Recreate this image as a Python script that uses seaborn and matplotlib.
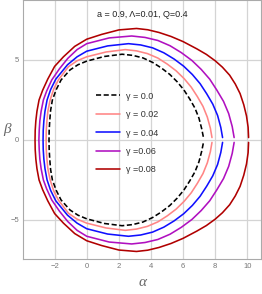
import numpy as np
import pandas as pd
import seaborn as sns
import matplotlib
import matplotlib.pyplot as plt
from matplotlib.ticker import AutoMinorLocator, FixedLocator

matplotlib.use("Agg")

# upper half of each shadow (right end -> top -> left edge)
gamma_labels = ["γ = 0.0", "γ = 0.02", "γ = 0.04", "γ =0.06", "γ =0.08"]

alpha_g000 = [7.26, 7.16, 6.99, 6.74, 6.41, 6.05, 5.63, 5.17, 4.65, 4.10, 3.50, 2.86, 2.20,
              1.10, 0.00, -0.55, -1.04, -1.60, -1.90, -2.14, -2.25, -2.30, -2.34, -2.35]
beta_g000 = [0.20, 0.70, 1.36, 1.99, 2.57, 3.13, 3.64, 4.10, 4.50, 4.85, 5.13, 5.29, 5.36,
             5.22, 4.93, 4.70, 4.38, 3.75, 3.15, 2.50, 1.85, 1.25, 0.60, 0.00]

alpha_g002 = [7.80, 7.70, 7.51, 7.24, 6.89, 6.51, 6.07, 5.57, 5.02, 4.43, 3.78, 3.10, 2.40,
              1.20, 0.00, -0.60, -1.14, -1.77, -2.05, -2.28, -2.42, -2.48, -2.52, -2.53]
beta_g002 = [0.15, 0.73, 1.43, 2.10, 2.71, 3.30, 3.83, 4.32, 4.74, 5.12, 5.40, 5.57, 5.65,
             5.50, 5.20, 4.95, 4.58, 3.75, 3.20, 2.50, 1.80, 1.20, 0.60, 0.00]

alpha_g004 = [8.46, 8.35, 8.15, 7.85, 7.47, 7.06, 6.58, 6.04, 5.44, 4.80, 4.10, 3.36, 2.60,
              1.30, 0.00, -0.60, -1.20, -1.93, -2.25, -2.47, -2.60, -2.67, -2.71, -2.72]
beta_g004 = [0.15, 0.78, 1.53, 2.24, 2.89, 3.52, 4.09, 4.61, 5.06, 5.45, 5.76, 5.94, 6.02,
             5.88, 5.55, 5.20, 4.70, 3.80, 3.15, 2.50, 1.80, 1.20, 0.60, 0.00]

alpha_g006 = [9.18, 9.06, 8.84, 8.52, 8.10, 7.66, 7.13, 6.55, 5.89, 5.19, 4.43, 3.63, 2.80,
              1.40, 0.00, -0.60, -1.18, -1.70, -2.18, -2.50, -2.70, -2.84, -2.92, -2.96, -2.98]
beta_g006 = [0.15, 0.84, 1.65, 2.41, 3.12, 3.80, 4.41, 4.97, 5.46, 5.89, 6.22, 6.41, 6.50,
             6.38, 6.02, 5.65, 5.10, 4.45, 3.75, 3.05, 2.50, 1.80, 1.20, 0.60, 0.00]

alpha_g008 = [10.08, 10.05, 9.95, 9.78, 9.55, 9.25, 8.90, 8.45, 8.00, 7.45, 6.85, 6.00,
              5.25, 4.50, 3.80, 3.10, 2.00, 0.93, 0.00, -0.75, -1.45, -2.00, -2.43, -2.75,
              -2.97, -3.10, -3.17, -3.21, -3.22]
beta_g008 = [0.15, 0.80, 1.50, 2.20, 2.90, 3.50, 4.05, 4.55, 4.95, 5.35, 5.70, 6.15,
             6.47, 6.72, 6.89, 6.97, 6.88, 6.60, 6.30, 5.85, 5.20, 4.60, 3.80, 3.10,
             2.50, 1.80, 1.20, 0.60, 0.00]

curves = [(alpha_g000, beta_g000), (alpha_g002, beta_g002), (alpha_g004, beta_g004),
          (alpha_g006, beta_g006), (alpha_g008, beta_g008)]
colors = ["black", "#ff8585", "#1010ff", "#b010c0", "#b00000"]

xticks = [-2, 0, 2, 4, 6, 8, 10]
yticks = [-5, 0, 5]

sns.set_theme(style="white")
plt.rcParams["font.family"] = ["Liberation Sans", "DejaVu Sans"]

fig = plt.figure(figsize=(2.62, 2.94), dpi=100)
ax = fig.add_axes([0.089, 0.118, 0.907, 0.882])

for (a, b), col, lab in zip(curves, colors, gamma_labels):
    # shadow is symmetric in beta: go round the top, then back along the bottom
    xs = list(a) + list(a[::-1][1:])
    ys = list(b) + [-v for v in b[::-1][1:]]
    df = pd.DataFrame({"alpha": xs, "beta": ys})
    sns.lineplot(data=df, x="alpha", y="beta", sort=False, estimator=None,
                 color=col, lw=1.15, label=lab, ax=ax)

ax.lines[0].set_dashes([3.2, 1.6])

ax.set_xlim(-3.95, 10.85)
ax.set_ylim(-7.46, 8.75)
ax.xaxis.set_major_locator(FixedLocator(xticks))
ax.yaxis.set_major_locator(FixedLocator(yticks))
ax.xaxis.set_minor_locator(AutoMinorLocator(5))
ax.yaxis.set_minor_locator(AutoMinorLocator(5))
ax.grid(True, which="major", color="#d4d4d4", lw=0.9)
ax.set_axisbelow(True)
ax.tick_params(which="both", direction="in", colors="#999999", labelcolor="#777777",
               labelsize=5.5, pad=3)
ax.tick_params(which="major", length=3.5, width=0.6)
ax.tick_params(which="minor", length=2, width=0.5)
for s in ax.spines.values():
    s.set_color("#aaaaaa")
    s.set_linewidth(0.8)

ax.set_xlabel("α", family="Liberation Serif", style="italic", fontsize=11, color="#666666", labelpad=4)
ax.set_ylabel("β", family="Liberation Serif", style="italic", fontsize=11, color="#666666",
              rotation=0, va="center")
ax.yaxis.set_label_coords(-0.068, 0.5)

ax.text(0.5, 0.945, "a = 0.9, Λ=0.01, Q=0.4", transform=ax.transAxes, ha="center",
        va="center", fontsize=6.5, color="#222222")

leg = ax.legend(loc="center", bbox_to_anchor=(0.438, 0.487), frameon=False, fontsize=6.5,
                handlelength=2.6, handletextpad=0.7, labelspacing=1.05)
for t in leg.get_texts():
    t.set_color("#333333")

fig.savefig("out.png", dpi=100)
